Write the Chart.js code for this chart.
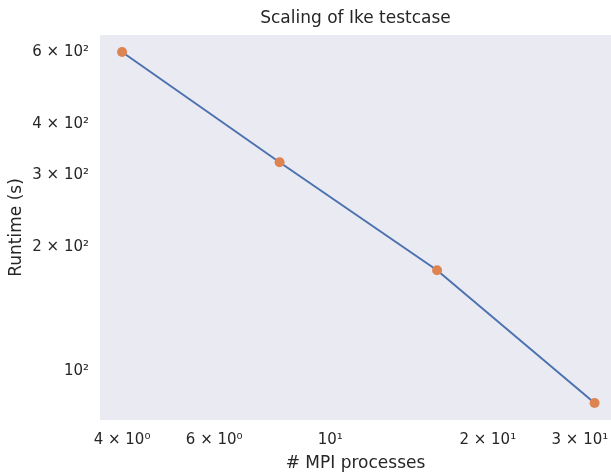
<!DOCTYPE html>
<html>
<head>
<meta charset="utf-8">
<title>Scaling of Ike testcase</title>
<script src="https://cdn.jsdelivr.net/npm/chart.js@4"></script>
<style>
  html, body { margin: 0; padding: 0; background: #ffffff; }
  canvas { display: block; }
</style>
</head>
<body>
<canvas id="chart" width="611" height="474"></canvas>
<script>
// Number of MPI processes and measured runtime (seconds)
const processes = [4, 8, 16, 32];
const runtime = [600, 323, 176, 83.5];

// Tick positions and their labels
const xTickValues = [4, 6, 10, 20, 30];
const xTickLabels = ['4 × 10⁰', '6 × 10⁰', '10¹', '2 × 10¹', '3 × 10¹'];
const yTickValues = [100, 200, 300, 400, 600];
const yTickLabels = ['10²', '2 × 10²', '3 × 10²', '4 × 10²', '6 × 10²'];

const TEXT = '#262626';
const FONT = 'DejaVu Sans';

const plotBackground = {
  id: 'plotBackground',
  beforeDraw(chart) {
    const { ctx, chartArea: a } = chart;
    ctx.save();
    ctx.fillStyle = '#EAEAF2';
    ctx.fillRect(a.left, a.top, a.right - a.left, a.bottom - a.top);
    ctx.restore();
  }
};

const points = processes.map((p, i) => ({ x: p, y: runtime[i] }));

new Chart(document.getElementById('chart'), {
  type: 'line',
  data: {
    datasets: [
      {
        data: points,
        borderColor: '#4C72B0',
        borderWidth: 2,
        pointRadius: 0,
        fill: false,
        tension: 0,
        order: 2
      },
      {
        data: points,
        showLine: false,
        pointRadius: 5,
        pointBackgroundColor: '#DD8452',
        pointBorderWidth: 0,
        order: 1
      }
    ]
  },
  options: {
    responsive: false,
    animation: false,
    layout: { padding: 0, autoPadding: false },
    plugins: {
      legend: { display: false },
      tooltip: { enabled: false },
      title: {
        display: true,
        text: 'Scaling of Ike testcase',
        color: TEXT,
        fullSize: false,
        font: { family: FONT, size: 17, weight: 'normal' },
        padding: { top: 8, bottom: 6.6 }
      }
    },
    scales: {
      x: {
        type: 'logarithmic',
        min: 3.63,
        max: 34.4,
        grid: { display: false, drawTicks: false },
        border: { display: false },
        afterBuildTicks(scale) {
          scale.ticks = xTickValues.map(v => ({ value: v }));
        },
        afterFit(scale) {
          scale.height = 54;
          scale.paddingLeft = 0;
          scale.paddingRight = 0;
        },
        ticks: {
          autoSkip: false,
          maxRotation: 0,
          padding: 11,
          color: TEXT,
          font: { family: FONT, size: 15 },
          callback(value) {
            const i = xTickValues.indexOf(value);
            return i >= 0 ? xTickLabels[i] : '';
          }
        },
        title: {
          display: true,
          text: '# MPI processes',
          color: TEXT,
          font: { family: FONT, size: 17 },
          padding: { top: 0, bottom: 0 }
        }
      },
      y: {
        type: 'logarithmic',
        min: 75.9,
        max: 660,
        grid: { display: false, drawTicks: false },
        border: { display: false },
        afterBuildTicks(scale) {
          scale.ticks = yTickValues.map(v => ({ value: v }));
        },
        afterFit(scale) {
          scale.width = 100;
          scale.paddingTop = 0;
          scale.paddingBottom = 0;
        },
        ticks: {
          autoSkip: false,
          padding: 11,
          color: TEXT,
          font: { family: FONT, size: 15 },
          callback(value) {
            const i = yTickValues.indexOf(value);
            return i >= 0 ? yTickLabels[i] : '';
          }
        },
        title: {
          display: true,
          text: 'Runtime (s)',
          color: TEXT,
          font: { family: FONT, size: 17 },
          padding: { top: 6, bottom: 6 }
        }
      }
    }
  },
  plugins: [plotBackground]
});
</script>
</body>
</html>
